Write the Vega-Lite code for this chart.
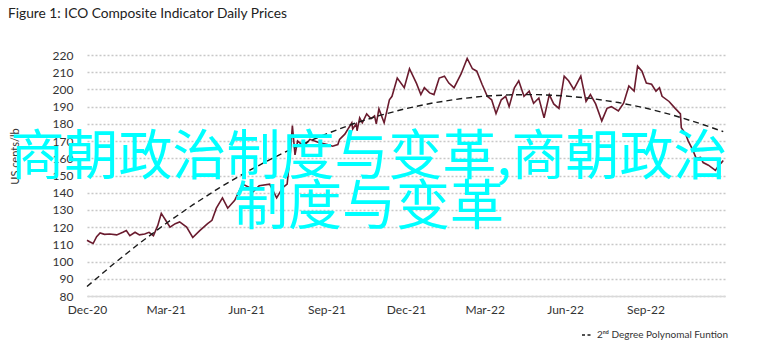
{
  "$schema": "https://vega.github.io/schema/vega-lite/v6.json",
  "autosize": "none",
  "width": 638,
  "height": 241,
  "padding": {"left": 87, "top": 55, "right": 37, "bottom": 60},
  "background": "white",
  "title": {
    "text": "Figure 1: ICO Composite Indicator Daily Prices",
    "anchor": "start",
    "frame": "group",
    "dx": -79,
    "offset": 28,
    "font": "Lato",
    "fontSize": 13.75,
    "fontWeight": "normal",
    "color": "#222222"
  },
  "config": {
    "view": {"stroke": null},
    "font": "Lato",
    "axis": {"labelFont": "Lato", "titleFont": "Lato", "labelColor": "#333333", "titleColor": "#333333"}
  },
  "datasets": {
    "prices": [
      {"date": "2020-12-01", "price": 112.4},
      {"date": "2020-12-04", "price": 111.5},
      {"date": "2020-12-08", "price": 110.5},
      {"date": "2020-12-12", "price": 114.5},
      {"date": "2020-12-16", "price": 116.6},
      {"date": "2020-12-21", "price": 115.8},
      {"date": "2020-12-27", "price": 116.0},
      {"date": "2021-01-04", "price": 115.5},
      {"date": "2021-01-11", "price": 117.0},
      {"date": "2021-01-15", "price": 118.0},
      {"date": "2021-01-19", "price": 115.0},
      {"date": "2021-01-25", "price": 117.0},
      {"date": "2021-01-30", "price": 115.5},
      {"date": "2021-02-05", "price": 116.0},
      {"date": "2021-02-10", "price": 117.0},
      {"date": "2021-02-15", "price": 115.0},
      {"date": "2021-02-20", "price": 121.0},
      {"date": "2021-02-24", "price": 128.0},
      {"date": "2021-03-01", "price": 124.0},
      {"date": "2021-03-06", "price": 120.0},
      {"date": "2021-03-12", "price": 122.0},
      {"date": "2021-03-17", "price": 123.0},
      {"date": "2021-03-25", "price": 120.0},
      {"date": "2021-04-01", "price": 114.0},
      {"date": "2021-04-09", "price": 118.0},
      {"date": "2021-04-18", "price": 122.0},
      {"date": "2021-04-23", "price": 124.0},
      {"date": "2021-04-28", "price": 131.0},
      {"date": "2021-05-05", "price": 137.0},
      {"date": "2021-05-11", "price": 131.0},
      {"date": "2021-05-19", "price": 135.6},
      {"date": "2021-05-28", "price": 145.0},
      {"date": "2021-06-05", "price": 143.0},
      {"date": "2021-06-08", "price": 140.0},
      {"date": "2021-06-16", "price": 144.0},
      {"date": "2021-06-28", "price": 145.0},
      {"date": "2021-07-06", "price": 137.0},
      {"date": "2021-07-13", "price": 143.0},
      {"date": "2021-07-18", "price": 145.0},
      {"date": "2021-07-22", "price": 165.0},
      {"date": "2021-07-24", "price": 179.0},
      {"date": "2021-07-27", "price": 162.0},
      {"date": "2021-07-30", "price": 170.0},
      {"date": "2021-08-06", "price": 167.0},
      {"date": "2021-08-13", "price": 171.0},
      {"date": "2021-08-24", "price": 169.0},
      {"date": "2021-09-02", "price": 168.0},
      {"date": "2021-09-08", "price": 167.0},
      {"date": "2021-09-14", "price": 168.0},
      {"date": "2021-09-16", "price": 171.0},
      {"date": "2021-09-22", "price": 174.0},
      {"date": "2021-09-30", "price": 180.6},
      {"date": "2021-10-01", "price": 177.0},
      {"date": "2021-10-05", "price": 180.0},
      {"date": "2021-10-06", "price": 176.0},
      {"date": "2021-10-09", "price": 183.5},
      {"date": "2021-10-12", "price": 180.6},
      {"date": "2021-10-17", "price": 185.8},
      {"date": "2021-10-22", "price": 183.0},
      {"date": "2021-10-26", "price": 184.6},
      {"date": "2021-10-28", "price": 180.0},
      {"date": "2021-10-31", "price": 188.7},
      {"date": "2021-11-06", "price": 180.6},
      {"date": "2021-11-12", "price": 194.0},
      {"date": "2021-11-15", "price": 196.0},
      {"date": "2021-11-21", "price": 206.6},
      {"date": "2021-11-29", "price": 201.0},
      {"date": "2021-12-05", "price": 212.0},
      {"date": "2021-12-13", "price": 203.5},
      {"date": "2021-12-18", "price": 197.0},
      {"date": "2021-12-22", "price": 201.0},
      {"date": "2021-12-28", "price": 198.0},
      {"date": "2022-01-02", "price": 197.0},
      {"date": "2022-01-08", "price": 206.6},
      {"date": "2022-01-14", "price": 207.7},
      {"date": "2022-01-19", "price": 203.7},
      {"date": "2022-01-25", "price": 201.0},
      {"date": "2022-02-02", "price": 209.0},
      {"date": "2022-02-09", "price": 218.0},
      {"date": "2022-02-15", "price": 212.0},
      {"date": "2022-02-20", "price": 210.6},
      {"date": "2022-02-26", "price": 203.0},
      {"date": "2022-03-04", "price": 196.0},
      {"date": "2022-03-09", "price": 194.0},
      {"date": "2022-03-14", "price": 186.0},
      {"date": "2022-03-20", "price": 194.0},
      {"date": "2022-03-25", "price": 196.0},
      {"date": "2022-03-29", "price": 190.0},
      {"date": "2022-04-04", "price": 201.0},
      {"date": "2022-04-09", "price": 205.0},
      {"date": "2022-04-15", "price": 196.0},
      {"date": "2022-04-21", "price": 199.0},
      {"date": "2022-04-26", "price": 192.0},
      {"date": "2022-05-02", "price": 195.0},
      {"date": "2022-05-08", "price": 183.5},
      {"date": "2022-05-14", "price": 197.0},
      {"date": "2022-05-19", "price": 191.6},
      {"date": "2022-05-25", "price": 189.0},
      {"date": "2022-05-31", "price": 207.7},
      {"date": "2022-06-05", "price": 205.0},
      {"date": "2022-06-11", "price": 200.0},
      {"date": "2022-06-19", "price": 207.7},
      {"date": "2022-06-25", "price": 193.0},
      {"date": "2022-06-30", "price": 197.0},
      {"date": "2022-07-06", "price": 191.6},
      {"date": "2022-07-13", "price": 181.7},
      {"date": "2022-07-19", "price": 189.0},
      {"date": "2022-07-24", "price": 190.0},
      {"date": "2022-08-01", "price": 187.5},
      {"date": "2022-08-07", "price": 192.0},
      {"date": "2022-08-13", "price": 202.0},
      {"date": "2022-08-19", "price": 199.0},
      {"date": "2022-08-23", "price": 213.5},
      {"date": "2022-08-28", "price": 210.6},
      {"date": "2022-09-02", "price": 203.7},
      {"date": "2022-09-08", "price": 203.0},
      {"date": "2022-09-13", "price": 199.0},
      {"date": "2022-09-17", "price": 201.0},
      {"date": "2022-09-20", "price": 196.0},
      {"date": "2022-09-28", "price": 193.0},
      {"date": "2022-10-05", "price": 189.0},
      {"date": "2022-10-11", "price": 185.8},
      {"date": "2022-10-12", "price": 177.7},
      {"date": "2022-10-17", "price": 174.0},
      {"date": "2022-10-20", "price": 170.0},
      {"date": "2022-10-25", "price": 165.0},
      {"date": "2022-10-29", "price": 160.0},
      {"date": "2022-11-03", "price": 160.5},
      {"date": "2022-11-06", "price": 157.5},
      {"date": "2022-11-12", "price": 156.0},
      {"date": "2022-11-20", "price": 153.0},
      {"date": "2022-11-24", "price": 156.0},
      {"date": "2022-11-27", "price": 157.5},
      {"date": "2022-11-29", "price": 158.7}
    ],
    "poly": [
      {"date": "2020-12-01", "value": 85.5},
      {"date": "2021-01-01", "value": 98.9},
      {"date": "2021-02-01", "value": 111.4},
      {"date": "2021-03-01", "value": 122.0},
      {"date": "2021-04-01", "value": 132.9},
      {"date": "2021-05-01", "value": 142.7},
      {"date": "2021-06-01", "value": 151.9},
      {"date": "2021-07-01", "value": 160.0},
      {"date": "2021-08-01", "value": 167.5},
      {"date": "2021-09-01", "value": 174.2},
      {"date": "2021-10-01", "value": 179.9},
      {"date": "2021-11-01", "value": 184.9},
      {"date": "2021-12-01", "value": 188.9},
      {"date": "2022-01-01", "value": 192.2},
      {"date": "2022-02-01", "value": 194.6},
      {"date": "2022-03-01", "value": 196.1},
      {"date": "2022-04-01", "value": 196.9},
      {"date": "2022-05-01", "value": 197.0},
      {"date": "2022-06-01", "value": 196.2},
      {"date": "2022-07-01", "value": 194.8},
      {"date": "2022-08-01", "value": 192.4},
      {"date": "2022-09-01", "value": 189.2},
      {"date": "2022-10-01", "value": 185.3},
      {"date": "2022-11-01", "value": 180.4},
      {"date": "2022-11-29", "value": 175.5}
    ],
    "overlay": [
      {"label": "商朝政治制度与变革,商朝政治\n制度与变革"}
    ]
  },
  "layer": [
    {
      "data": {"name": "prices"},
      "mark": {"type": "line", "color": "#6a1b2e", "strokeWidth": 1.6, "interpolate": "linear"},
      "encoding": {
        "x": {
          "field": "date", "type": "temporal",
          "scale": {"domain": [{"year": 2020, "month": 12, "date": 1}, {"year": 2022, "month": 12, "date": 1}]},
          "axis": {
            "title": null,
            "values": [
              {"year": 2020, "month": 12, "date": 1},
              {"year": 2021, "month": 3, "date": 1},
              {"year": 2021, "month": 6, "date": 1},
              {"year": 2021, "month": 9, "date": 1},
              {"year": 2021, "month": 12, "date": 1},
              {"year": 2022, "month": 3, "date": 1},
              {"year": 2022, "month": 6, "date": 1},
              {"year": 2022, "month": 9, "date": 1}
            ],
            "tickCount": 20,
            "format": "%b-%y",
            "grid": false,
            "ticks": false,
            "tickSize": 0,
            "labelFlush": false,
            "labelOverlap": false,
            "labelPadding": 8,
            "labelFontSize": 12,
            "domainColor": "#d9d9d9",
            "domainWidth": 1.5
          }
        },
        "y": {
          "field": "price", "type": "quantitative",
          "scale": {"domain": [80, 220], "nice": false, "zero": false},
          "axis": {
            "title": "US cents/lb",
            "titleFontSize": 11,
            "titleFontWeight": "normal",
            "titleX": -72,
            "titleY": 101,
            "titleAngle": 270,
            "titleAlign": "center",
            "titleBaseline": "middle",
            "values": [80, 90, 100, 110, 120, 130, 140, 150, 160, 170, 180, 190, 200, 210, 220],
            "tickCount": 20,
            "domain": false,
            "ticks": false,
            "tickSize": 0,
            "labelOverlap": false,
            "labelFlush": false,
            "labelPadding": 14,
            "labelFontSize": 12,
            "grid": true,
            "gridColor": "#c8c8c8",
            "gridDash": [2, 2],
            "gridWidth": 1.5
          }
        }
      }
    },
    {
      "data": {"name": "poly"},
      "mark": {"type": "line", "strokeDash": [6, 4], "strokeWidth": 1.4},
      "encoding": {
        "x": {"field": "date", "type": "temporal"},
        "y": {"field": "value", "type": "quantitative"},
        "stroke": {
          "datum": "2ⁿᵈ Degree Polynomal Funtion",
          "scale": {"range": ["#1a1a1a"]},
          "legend": {
            "title": null,
            "orient": "none",
            "legendX": 494,
            "legendY": 274,
            "symbolType": "stroke",
            "symbolDash": [3, 2.5],
            "symbolStrokeWidth": 1.5,
            "symbolSize": 100,
            "labelFont": "Lato",
            "labelFontSize": 10,
            "labelColor": "#333333",
            "labelOffset": 4
          }
        }
      }
    },
    {
      "data": {"name": "overlay"},
      "mark": {
        "type": "text",
        "font": "Noto Sans CJK SC",
        "fontSize": 54,
        "lineHeight": 50,
        "lineBreak": "\n",
        "color": "#00ffff",
        "align": "center",
        "baseline": "middle",
        "dx": -37,
        "dy": -17
      },
      "encoding": {"text": {"field": "label"}}
    }
  ]
}
